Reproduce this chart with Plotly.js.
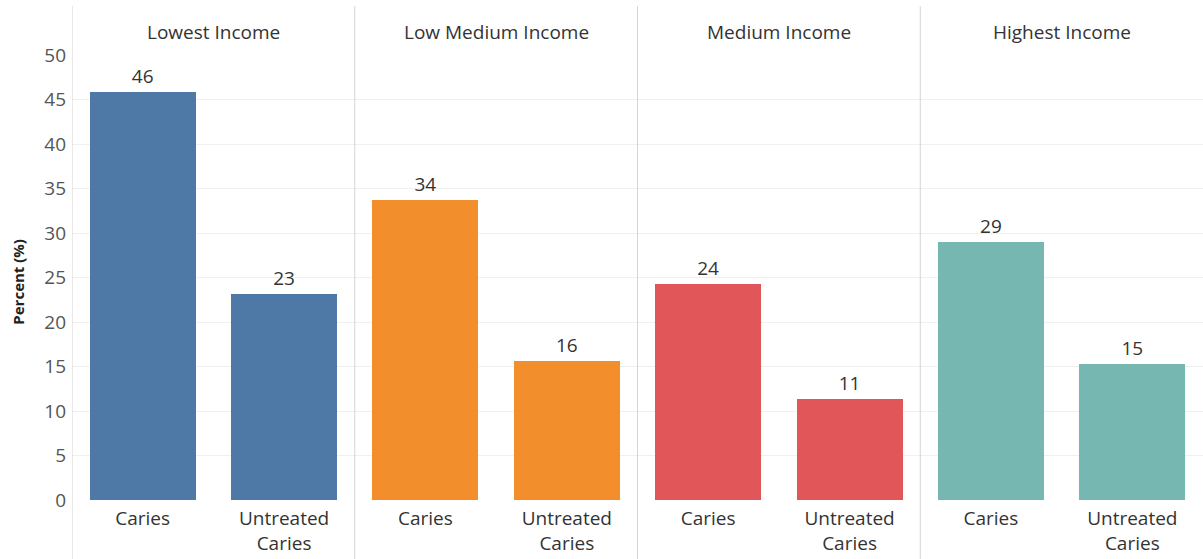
<!DOCTYPE html>
<html>
<head>
<meta charset="utf-8">
<script src="https://cdn.plot.ly/plotly-3.0.1.min.js"></script>
<style>html,body{margin:0;padding:0;background:#fff;}#chart{width:1203px;height:559px;}</style>
</head>
<body>
<div id="chart"></div>
<script>
const incomeGroups = ["Lowest Income", "Low Medium Income", "Medium Income", "Highest Income"];
const measures = ["Caries", "Untreated<br>Caries"];
const cariesValues = [45.8, 33.7, 24.3, 29.0];
const untreatedValues = [23.1, 15.6, 11.3, 15.3];
const groupColors = ["#4e79a7", "#f28e2b", "#e15759", "#76b7b2"];
const yTicks = [0, 5, 10, 15, 20, 25, 30, 35, 40, 45, 50];

const FONT = "Open Sans, Noto Sans, sans-serif";
const xs = [], ys = [], cols = [], tickText = [];
incomeGroups.forEach((g, i) => {
  xs.push(2 * i, 2 * i + 1);
  ys.push(cariesValues[i], untreatedValues[i]);
  cols.push(groupColors[i], groupColors[i]);
  tickText.push(measures[0], measures[1]);
});

const trace = {
  type: "bar",
  x: xs,
  y: ys,
  width: 0.75,
  marker: {color: cols},
  text: ys.map(v => String(Math.round(v))),
  textposition: "outside",
  textfont: {family: FONT, size: 19, color: "#333"},
  cliponaxis: false,
  hoverinfo: "x+y"
};

const shapes = [];
[-0.5, 1.5, 3.5, 5.5].forEach(x => {
  shapes.push({type: "line", xref: "x", yref: "paper", x0: x, x1: x, y0: -0.14, y1: 1.11,
    line: {color: "#d4d4d4", width: 1}});
});

const annotations = incomeGroups.map((g, i) => ({
  xref: "x", yref: "paper", x: 2 * i + 0.5, y: 1.052, text: g, showarrow: false,
  yanchor: "middle", xanchor: "center",
  font: {family: FONT, size: 19, color: "#333"}
}));
annotations.push({
  xref: "paper", yref: "paper", x: -0.048, y: 0.49, text: "<b>Percent (%)</b>", showarrow: false,
  textangle: -90, xanchor: "center", yanchor: "middle",
  font: {family: FONT, size: 15, color: "#222"}
});

const layout = {
  width: 1203, height: 559,
  margin: {l: 72, r: 0, t: 55, b: 59},
  paper_bgcolor: "#fff", plot_bgcolor: "#fff",
  showlegend: false,
  bargap: 0,
  xaxis: {
    range: [-0.5, 7.5], tickvals: xs, ticktext: tickText, showgrid: false, zeroline: false,
    showline: false, ticks: "", fixedrange: true, ticklabelstandoff: 5,
    tickfont: {family: FONT, size: 19, color: "#333"}
  },
  yaxis: {
    range: [0, 50], tickvals: yTicks, showgrid: true, gridcolor: "#f0f0f0", zeroline: false,
    showline: false, ticks: "", fixedrange: true, ticklabelstandoff: 5,
    tickfont: {family: FONT, size: 19, color: "#555"}
  },
  shapes: shapes,
  annotations: annotations
};

Plotly.newPlot("chart", [trace], layout, {displayModeBar: false, staticPlot: true});
</script>
</body>
</html>
